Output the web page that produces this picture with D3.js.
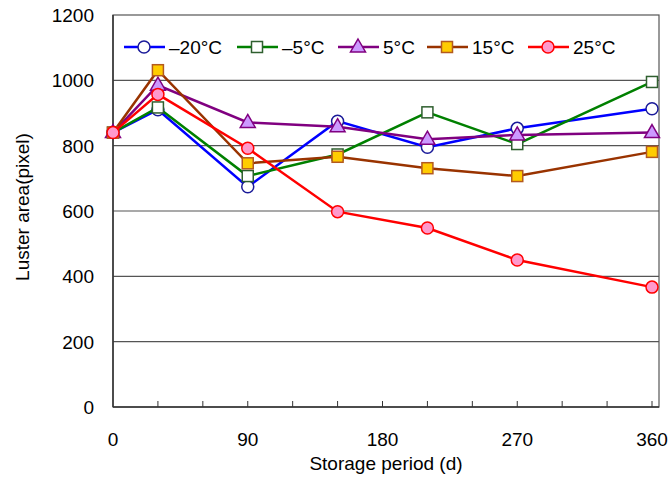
<!DOCTYPE html>
<html><head><meta charset="utf-8">
<script src="https://cdn.jsdelivr.net/npm/d3@7"></script>
<style>body{margin:0;background:#fff}svg{display:block}text{font-family:"Liberation Sans",Arial,sans-serif;fill:#000}</style>
</head><body>
<script>
const days = [0, 30, 90, 150, 210, 270, 360];
const seriesNames = ["\u201320\u00b0C", "\u20135\u00b0C", "5\u00b0C", "15\u00b0C", "25\u00b0C"];
const vMinus20 = [840, 910, 674, 875, 795, 853, 913];
const vMinus5 = [840, 917, 707, 773, 902, 805, 995];
const v5 = [840, 985, 871, 858, 820, 833, 840];
const v15 = [840, 1031, 746, 766, 731, 707, 781];
const v25 = [840, 957, 792, 598, 548, 450, 367];
const yTicks = [0, 200, 400, 600, 800, 1000, 1200];
const xLabelTicks = [0, 90, 180, 270, 360];
const xMinorTicks = [30, 60, 90, 120, 150, 180, 210, 240, 270, 300, 330, 360];

const styles = [
  {line:"#0000ff", stroke:"#1a1a99", fill:"#ffffff", shape:"circle"},
  {line:"#008000", stroke:"#2f5f2f", fill:"#ffffff", shape:"square"},
  {line:"#800080", stroke:"#800080", fill:"#cc99ff", shape:"triangle"},
  {line:"#993300", stroke:"#b35a1f", fill:"#ffcc00", shape:"square"},
  {line:"#ff0000", stroke:"#ff0000", fill:"#ff99cc", shape:"circle"}
];
const allValues = [vMinus20, vMinus5, v5, v15, v25];

const W = 671, H = 478;
const L = 113, R = 659, T = 15, B = 407;
const svg = d3.select("body").append("svg").attr("width", W).attr("height", H);

const x = d3.scaleLinear().domain([0, 360]).range([L, 652]);
const y = d3.scaleLinear().domain([0, 1200]).range([B, T]);

// gridlines
svg.append("g").selectAll("line").data(yTicks.filter(d => d > 0 && d < 1200)).join("line")
  .attr("x1", L).attr("x2", R).attr("y1", d => y(d)).attr("y2", d => y(d))
  .attr("stroke", "#555").attr("stroke-width", 1.2);

// frame
svg.append("rect").attr("x", L).attr("y", T).attr("width", R - L).attr("height", B - T)
  .attr("fill", "none").attr("stroke", "#555").attr("stroke-width", 1.2);
svg.append("line").attr("x1", L).attr("x2", L).attr("y1", T).attr("y2", B).attr("stroke", "#333").attr("stroke-width", 1.5);
svg.append("line").attr("x1", L).attr("x2", R).attr("y1", B).attr("y2", B).attr("stroke", "#333").attr("stroke-width", 1.5);

// x ticks (inside)
svg.append("g").selectAll("line").data(xMinorTicks).join("line")
  .attr("x1", d => x(d)).attr("x2", d => x(d)).attr("y1", B).attr("y2", B - 6)
  .attr("stroke", "#333").attr("stroke-width", 1);

// x labels
svg.append("g").selectAll("text").data(xLabelTicks).join("text")
  .attr("x", d => x(d)).attr("y", 446).attr("text-anchor", "middle")
  .style("font-size", "19px").text(d => d);

// y labels
svg.append("g").selectAll("text").data(yTicks).join("text")
  .attr("x", 94).attr("y", d => y(d) + 7).attr("text-anchor", "end")
  .style("font-size", "19px").text(d => d);

// titles
svg.append("text").attr("x", (L + R) / 2).attr("y", 470).attr("text-anchor", "middle")
  .style("font-size", "19px").text("Storage period (d)");
svg.append("text").attr("transform", `translate(29,207) rotate(-90)`).attr("text-anchor", "middle")
  .style("font-size", "19px").text("Luster area(pixel)");

function drawMarker(g, shape, cx, cy, st) {
  if (shape === "circle") {
    g.append("circle").attr("cx", cx).attr("cy", cy).attr("r", 6)
      .attr("fill", st.fill).attr("stroke", st.stroke).attr("stroke-width", 1.5);
  } else if (shape === "square") {
    g.append("rect").attr("x", cx - 5.5).attr("y", cy - 5.5).attr("width", 11).attr("height", 11)
      .attr("fill", st.fill).attr("stroke", st.stroke).attr("stroke-width", 1.5);
  } else {
    g.append("path").attr("d", `M${cx},${cy - 8}L${cx + 7.5},${cy + 5}L${cx - 7.5},${cy + 5}Z`)
      .attr("fill", st.fill).attr("stroke", st.stroke).attr("stroke-width", 1.5);
  }
}

const line = d3.line().x((d, i) => x(days[i])).y(d => y(d));
allValues.forEach((vals, si) => {
  const st = styles[si];
  const g = svg.append("g");
  g.append("path").attr("d", line(vals)).attr("fill", "none")
    .attr("stroke", st.line).attr("stroke-width", 2.5);
  vals.forEach((v, i) => drawMarker(g, st.shape, x(days[i]), y(v), st));
});

// legend
const legX = [124, 237, 338, 427, 528];
const legY = 47;
seriesNames.forEach((name, i) => {
  const st = styles[i];
  const g = svg.append("g");
  g.append("line").attr("x1", legX[i]).attr("x2", legX[i] + 41).attr("y1", legY).attr("y2", legY)
    .attr("stroke", st.line).attr("stroke-width", 2.5);
  drawMarker(g, st.shape, legX[i] + 20, legY, st);
  g.append("text").attr("x", legX[i] + 45).attr("y", legY + 7).style("font-size", "19px").text(name);
});
</script>
</body></html>
